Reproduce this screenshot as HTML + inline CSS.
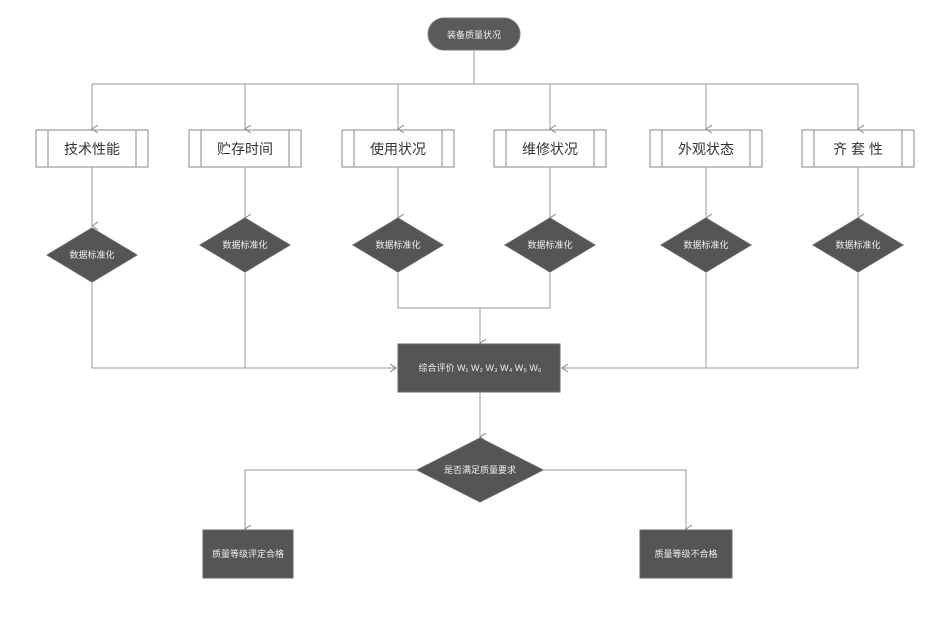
<!DOCTYPE html>
<html><head><meta charset="utf-8"><style>body{margin:0;background:#fff}</style></head><body>
<svg width="930" height="613" viewBox="0 0 930 613" xmlns="http://www.w3.org/2000/svg" font-family="Liberation Sans, Noto Sans CJK SC, sans-serif">
<defs><marker id="a" markerWidth="8" markerHeight="8" refX="4" refY="6" orient="auto" markerUnits="userSpaceOnUse"><path d="M0,0 L4,6 L8,0" fill="none" stroke="#888" stroke-width="1"/></marker>
<marker id="r" markerWidth="8" markerHeight="8" refX="6" refY="4" orient="auto" markerUnits="userSpaceOnUse"><path d="M0,0 L6,4 L0,8" fill="none" stroke="#888" stroke-width="1"/></marker></defs>
<g stroke="#999" stroke-width="1" fill="none">
<rect x="428" y="18" width="92" height="32" rx="16" fill="#5a5a5a" stroke="#777"/>
<line x1="474" y1="50" x2="474" y2="84"/>
<line x1="92" y1="84" x2="858" y2="84"/>
<line x1="92" y1="84" x2="92" y2="129" marker-end="url(#a)"/>
<line x1="245" y1="84" x2="245" y2="129" marker-end="url(#a)"/>
<line x1="398" y1="84" x2="398" y2="129" marker-end="url(#a)"/>
<line x1="550" y1="84" x2="550" y2="129" marker-end="url(#a)"/>
<line x1="706" y1="84" x2="706" y2="129" marker-end="url(#a)"/>
<line x1="858" y1="84" x2="858" y2="129" marker-end="url(#a)"/>
<g stroke="#888">
<rect x="36" y="130" width="112" height="37"/><line x1="48" y1="130" x2="48" y2="167"/><line x1="136" y1="130" x2="136" y2="167"/>
<rect x="189" y="130" width="112" height="37"/><line x1="201" y1="130" x2="201" y2="167"/><line x1="289" y1="130" x2="289" y2="167"/>
<rect x="342" y="130" width="112" height="37"/><line x1="354" y1="130" x2="354" y2="167"/><line x1="442" y1="130" x2="442" y2="167"/>
<rect x="494" y="130" width="112" height="37"/><line x1="506" y1="130" x2="506" y2="167"/><line x1="594" y1="130" x2="594" y2="167"/>
<rect x="650" y="130" width="112" height="37"/><line x1="662" y1="130" x2="662" y2="167"/><line x1="750" y1="130" x2="750" y2="167"/>
<rect x="802" y="130" width="112" height="37"/><line x1="814" y1="130" x2="814" y2="167"/><line x1="902" y1="130" x2="902" y2="167"/>
</g>
<line x1="92" y1="167" x2="92" y2="226" marker-end="url(#a)"/>
<line x1="245" y1="167" x2="245" y2="218" marker-end="url(#a)"/>
<line x1="398" y1="167" x2="398" y2="218" marker-end="url(#a)"/>
<line x1="550" y1="167" x2="550" y2="218" marker-end="url(#a)"/>
<line x1="706" y1="167" x2="706" y2="218" marker-end="url(#a)"/>
<line x1="858" y1="167" x2="858" y2="218" marker-end="url(#a)"/>
<polygon points="92,228 137,255 92,282 47,255" fill="#555" stroke="#666"/>
<polygon points="245,218 290,245 245,272 200,245" fill="#555" stroke="#666"/>
<polygon points="398,218 443,245 398,272 353,245" fill="#555" stroke="#666"/>
<polygon points="550,218 595,245 550,272 505,245" fill="#555" stroke="#666"/>
<polygon points="706,218 751,245 706,272 661,245" fill="#555" stroke="#666"/>
<polygon points="858,218 903,245 858,272 813,245" fill="#555" stroke="#666"/>
<polyline points="92,282 92,368 396,368" marker-end="url(#r)"/>
<line x1="245" y1="272" x2="245" y2="368"/>
<polyline points="858,272 858,368 562,368" marker-end="url(#r)"/>
<line x1="706" y1="272" x2="706" y2="368"/>
<polyline points="398,272 398,308 550,308 550,272"/>
<line x1="480" y1="308" x2="480" y2="343" marker-end="url(#a)"/>
<rect x="398" y="344" width="162" height="48" fill="#555" stroke="#666"/>
<line x1="480" y1="392" x2="480" y2="437" marker-end="url(#a)"/>
<polygon points="480,438 543,470 480,502 417,470" fill="#555" stroke="#666"/>
<polyline points="417,470 245,470 245,529" marker-end="url(#a)"/>
<polyline points="543,470 686,470 686,529" marker-end="url(#a)"/>
<rect x="203" y="530" width="90" height="48" fill="#555" stroke="#666"/>
<rect x="640" y="530" width="92" height="48" fill="#555" stroke="#666"/>
</g>
<g font-size="14" fill="#333" text-anchor="middle">
<text x="92" y="154">技术性能</text><text x="245" y="154">贮存时间</text><text x="398" y="154">使用状况</text>
<text x="550" y="154">维修状况</text><text x="706" y="154">外观状态</text><text x="858" y="154">齐 套 性</text>
</g>
<g font-size="9" fill="#eee" text-anchor="middle">
<text x="474" y="38">装备质量状况</text>
<text x="92" y="258">数据标准化</text><text x="245" y="248">数据标准化</text><text x="398" y="248">数据标准化</text>
<text x="550" y="248">数据标准化</text><text x="706" y="248">数据标准化</text><text x="858" y="248">数据标准化</text>
<text x="480" y="371">综合评价 W₁ W₂ W₃ W₄ W₅ W₆</text>
<text x="480" y="473">是否满足质量要求</text>
<text x="248" y="557">质量等级评定合格</text>
<text x="686" y="557">质量等级不合格</text>
</g>
</svg>
</body></html>
